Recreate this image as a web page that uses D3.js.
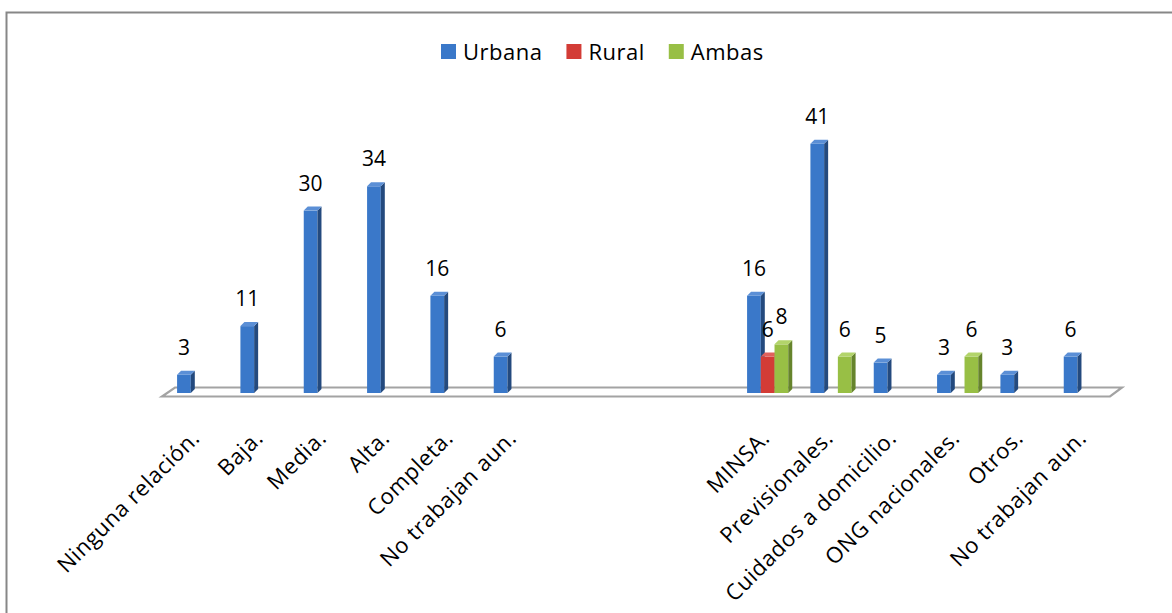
<!DOCTYPE html>
<html>
<head>
<meta charset="utf-8">
<script src="https://cdn.jsdelivr.net/npm/d3@7"></script>
<style>
  body { margin: 0; background: #fff; }
  text { font-family: "Open Sans", sans-serif; fill: #000; }
</style>
</head>
<body>
<div id="chart"></div>
<script>
// categories (empty slots keep the gap between the two groups)
var categories = ["Ninguna relación.", "Baja.", "Media.", "Alta.", "Completa.", "No trabajan aun.",
  "", "", "",
  "MINSA.", "Previsionales.", "Cuidados a domicilio.", "ONG nacionales.", "Otros.", "No trabajan aun."];
var seriesNames = ["Urbana", "Rural", "Ambas"];
var urbana = [3, 11, 30, 34, 16, 6, null, null, null, 16, 41, 5, 3, 3, 6];
var rural  = [null, null, null, null, null, null, null, null, null, 6, null, null, null, null, null];
var ambas  = [null, null, null, null, null, null, null, null, null, 8, 6, null, 6, null, null];

var seriesValues = [urbana, rural, ambas];
var colors = [
  {front: "#3a78c9", side: "#244a7e", top: "#5b8fd6"},
  {front: "#d33c36", side: "#942a26", top: "#e0625c"},
  {front: "#98bf45", side: "#66842c", top: "#b2d46a"}
];

var svgWidth = 1172;
var svgHeight = 613;
var baseY = 393;
var depth = 4;

var svg = d3.select("#chart")
  .append("svg")
  .attr("width", svgWidth)
  .attr("height", svgHeight);

// chart border
svg.append("rect")
  .attr("x", 6.5)
  .attr("y", 12.5)
  .attr("width", svgWidth)
  .attr("height", svgHeight)
  .attr("fill", "none")
  .attr("stroke", "#878787")
  .attr("stroke-width", 2);

var x = d3.scaleBand()
  .domain(d3.range(categories.length))
  .range([166, 1116])
  .paddingInner(0.35)
  .paddingOuter(0.175);

var xSub = d3.scaleBand()
  .domain(d3.range(seriesNames.length))
  .range([0, x.bandwidth()]);

var y = d3.scaleLinear()
  .domain([0, 45])
  .range([baseY, baseY - 45 * 6.08]);

// floor
svg.append("path")
  .attr("d", "M162,396.5 L1110,396.5 L1122,387.5 L175,387.5 Z")
  .attr("fill", "#fff")
  .attr("stroke", "#a3a3a3")
  .attr("stroke-width", 2.2);

var bars = [];
categories.forEach(function(c, i) {
  seriesValues.forEach(function(vals, s) {
    if (vals[i] != null) bars.push({cat: i, s: s, v: vals[i]});
  });
});

var barG = svg.selectAll(".bar")
  .data(bars)
  .enter()
  .append("g")
  .attr("class", "bar");

barG.each(function(d) {
  var g = d3.select(this);
  var x0 = x(d.cat) + xSub(d.s);
  var w = xSub.bandwidth();
  var yt = y(d.v);
  var col = colors[d.s];
  g.append("rect")
    .attr("x", x0)
    .attr("y", yt)
    .attr("width", w)
    .attr("height", baseY - yt)
    .attr("fill", col.front);
  g.append("path")
    .attr("d", `M${x0 + w},${baseY} L${x0 + w + depth},${baseY - depth} L${x0 + w + depth},${yt - depth} L${x0 + w},${yt} Z`)
    .attr("fill", col.side);
  g.append("path")
    .attr("d", `M${x0},${yt} L${x0 + depth},${yt - depth} L${x0 + w + depth},${yt - depth} L${x0 + w},${yt} Z`)
    .attr("fill", col.top);
});

// value labels
svg.selectAll(".val")
  .data(bars)
  .enter()
  .append("text")
  .attr("class", "val")
  .attr("x", d => x(d.cat) + xSub(d.s) + xSub.bandwidth() / 2)
  .attr("y", d => y(d.v) - 20)
  .attr("text-anchor", "middle")
  .attr("font-size", "21px")
  .text(d => d.v);

// category labels
svg.selectAll(".cat")
  .data(categories)
  .enter()
  .append("text")
  .attr("class", "cat")
  .attr("transform", (d, i) => `translate(${x(i) + x.bandwidth() / 2 - 2}, 434) rotate(-45)`)
  .attr("text-anchor", "end")
  .attr("dy", "0.35em")
  .attr("font-size", "22px")
  .attr("letter-spacing", "0.6px")
  .text(d => d);

// legend
var legend = svg.append("g");
var lx = 441;
seriesNames.forEach(function(name, s) {
  legend.append("rect")
    .attr("x", lx)
    .attr("y", 44)
    .attr("width", 15)
    .attr("height", 15)
    .attr("fill", colors[s].front);
  var t = legend.append("text")
    .attr("x", lx + 22)
    .attr("y", 60)
    .attr("font-size", "22px")
    .attr("letter-spacing", "0.5px")
    .text(name);
  lx += 22 + t.node().getComputedTextLength() + 24;
});
</script>
</body>
</html>
